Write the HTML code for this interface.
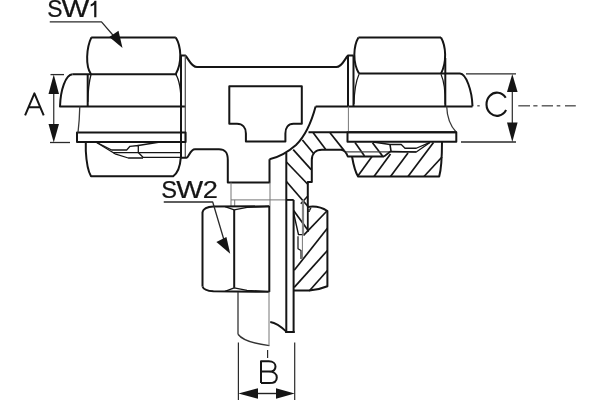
<!DOCTYPE html>
<html><head><meta charset="utf-8"><style>html,body{margin:0;padding:0;background:#fff;}svg{display:block;}</style></head>
<body><svg style="will-change:transform" width="600" height="400" viewBox="0 0 600 400">
<defs></defs>
<rect width="600" height="400" fill="#fff"/>
<path d="M72.5,74.3 C65.5,74.8 60.5,90 60,106.5 L185.6,106.5" stroke="#151515" stroke-width="2.0" fill="none" stroke-linejoin="round" />
<line x1="72.5" y1="74.2" x2="177" y2="74.2" stroke="#151515" stroke-width="2.0"/>
<path d="M91.2,37.4 L175.8,37.4" stroke="#151515" stroke-width="2.0" fill="none" stroke-linejoin="round" />
<path d="M91.4,37.4 C86.3,48 85.3,66 91,74.2" stroke="#151515" stroke-width="2.0" fill="none" stroke-linejoin="round" />
<path d="M175.8,37.4 C181,46 182.5,62 175.8,74" stroke="#151515" stroke-width="2.0" fill="none" stroke-linejoin="round" />
<line x1="87.7" y1="74.2" x2="87.7" y2="106.5" stroke="#151515" stroke-width="2.0"/>
<path d="M91,74.5 C89,82 88,92 87.8,102" stroke="#151515" stroke-width="1.3" fill="none" stroke-linejoin="round" />
<path d="M175.8,74.3 C179.5,80 181,90 181.2,104" stroke="#151515" stroke-width="1.3" fill="none" stroke-linejoin="round" />
<line x1="181" y1="55.5" x2="181" y2="157.6" stroke="#151515" stroke-width="2.0"/>
<path d="M181,55.5 L185.3,55.5 C188.5,58.5 191,67.1 197,67.1 L336.3,67.1 C342.3,67.1 344.8,58.5 348,55.5 L353.6,55.5" stroke="#151515" stroke-width="2.0" fill="none" stroke-linejoin="round" />
<line x1="185.3" y1="55.5" x2="185.3" y2="157.4" stroke="#555" stroke-width="1.3"/>
<path d="M77,132.6 L185.6,132.6 L185.6,142 L77,142 Z" stroke="#151515" stroke-width="2.0" fill="none" stroke-linejoin="round" />
<path d="M79.8,106.5 C79.6,115 79,124 78,132.6" stroke="#3a3a3a" stroke-width="1.3" fill="none" stroke-linejoin="round" />
<path d="M85.8,142 L85.8,151 C86.5,164 88.5,172 91,176.3 L173.2,176.3 C177.5,173 180.2,166 180.8,157.6" stroke="#151515" stroke-width="2.0" fill="none" stroke-linejoin="round" />
<path d="M95.8,142 L111.7,150 L126.7,150 L130,146.3 L138.3,145.5 L138.3,152.5 L143,157.3 L181.5,157.3" stroke="#151515" stroke-width="1.3" fill="none" stroke-linejoin="round" />
<path d="M138.3,145.5 L160,142" stroke="#151515" stroke-width="1.3" fill="none" stroke-linejoin="round" />
<path d="M95.8,142 L115,153.8 L128.3,158 L143,158" stroke="#151515" stroke-width="1.3" fill="none" stroke-linejoin="round" />
<line x1="113" y1="152.7" x2="181.5" y2="152.7" stroke="#151515" stroke-width="1.2"/>
<path d="M181,157.7 L186.5,157.7 C189,157.5 190,149.2 195,149.2 L219,149.2 C225.5,149.2 227.8,152.5 227.8,160 L227.8,182.6 L269.5,182.6 L269.5,159.2" stroke="#151515" stroke-width="2.0" fill="none" stroke-linejoin="round" />
<path d="M229.3,123.8 L229.3,86.3 L301.8,86.3 L301.8,123.8 L293.5,123.8 C288,123.8 285.4,128 285.4,133.5 L285.4,141.4 L245.9,141.4 L245.9,133.5 C245.9,127.5 242.5,123.8 237,123.8 Z" stroke="#151515" stroke-width="2.0" fill="none" stroke-linejoin="round" />
<path d="M315.6,106.4 C312,120 306,135 296,145 C288,152 278,157.5 269.5,159.2" stroke="#151515" stroke-width="2.0" fill="none" stroke-linejoin="round" />
<line x1="315.6" y1="106.4" x2="472.5" y2="106.4" stroke="#151515" stroke-width="2.0"/>
<line x1="330" y1="132.8" x2="344" y2="150.4" stroke="#151515" stroke-width="1.7"/>
<line x1="313.2" y1="132.8" x2="325.6" y2="149.2" stroke="#151515" stroke-width="1.7"/>
<line x1="302.4" y1="140" x2="314" y2="154" stroke="#151515" stroke-width="1.7"/>
<line x1="293.2" y1="149.6" x2="311.2" y2="169.6" stroke="#151515" stroke-width="1.7"/>
<line x1="286.4" y1="162" x2="308" y2="184.5" stroke="#151515" stroke-width="1.7"/>
<line x1="286.4" y1="181.5" x2="308" y2="206.5" stroke="#151515" stroke-width="1.7"/>
<line x1="293.6" y1="210.5" x2="307.8" y2="230" stroke="#151515" stroke-width="1.7"/>
<line x1="355" y1="142.5" x2="364.5" y2="156" stroke="#151515" stroke-width="1.7"/>
<line x1="372.5" y1="142.8" x2="382.5" y2="156" stroke="#151515" stroke-width="1.7"/>
<path d="M307.8,207 L307.8,182 L311.8,182 L311.8,160 C311.8,154 315.5,149.8 322,149.8 L341,149.8 C344.5,150 346.5,153 347.8,156.5 L384,156.5" stroke="#151515" stroke-width="2" fill="none" stroke-linejoin="round" />
<line x1="308.5" y1="132.3" x2="456.3" y2="132.3" stroke="#151515" stroke-width="2.0"/>
<line x1="346" y1="151.8" x2="416" y2="151.8" stroke="#444" stroke-width="1.2"/>
<path d="M460,73.6 C466,74 472,90 472.5,106.4" stroke="#151515" stroke-width="2.0" fill="none" stroke-linejoin="round" />
<line x1="359" y1="73.4" x2="460" y2="73.4" stroke="#151515" stroke-width="2.0"/>
<path d="M358.4,37.4 L441,37.4" stroke="#151515" stroke-width="2.0" fill="none" stroke-linejoin="round" />
<path d="M358.4,37.4 C353.5,46 352.3,62 359,73.6" stroke="#151515" stroke-width="2.0" fill="none" stroke-linejoin="round" />
<path d="M441,37.4 C446,46 447,62 441,73.6" stroke="#151515" stroke-width="2.0" fill="none" stroke-linejoin="round" />
<line x1="353.5" y1="55.5" x2="353.5" y2="106.4" stroke="#151515" stroke-width="2.0"/>
<line x1="445.3" y1="58" x2="445.3" y2="106.4" stroke="#151515" stroke-width="2.0"/>
<path d="M359,74.2 C355.5,82 354.3,92 354,104" stroke="#151515" stroke-width="1.2" fill="none" stroke-linejoin="round" />
<path d="M441,74.2 C444.5,82 445.3,92 445.2,104" stroke="#151515" stroke-width="1.2" fill="none" stroke-linejoin="round" />
<line x1="348" y1="55.5" x2="348" y2="106.4" stroke="#151515" stroke-width="2.0"/>
<line x1="348.4" y1="106.4" x2="348.4" y2="132.3" stroke="#777" stroke-width="1"/>
<path d="M446.7,106.4 C447,116 450.5,126 456.3,132.3" stroke="#3a3a3a" stroke-width="1.3" fill="none" stroke-linejoin="round" />
<path d="M347.5,132.3 L456.3,132.3 L456.3,141.8 L347.5,141.8 Z" stroke="#151515" stroke-width="2.0" fill="none" stroke-linejoin="round" />
<path d="M352,156.5 C353.5,165 355,172 358.2,176.6 L439.2,176.6 C441,170 442,160 442,141.8" stroke="#151515" stroke-width="2.0" fill="none" stroke-linejoin="round" />
<line x1="357.5" y1="176.5" x2="372" y2="156.5" stroke="#151515" stroke-width="1.7"/>
<line x1="374" y1="176.5" x2="390.5" y2="154" stroke="#151515" stroke-width="1.7"/>
<line x1="390.5" y1="176.5" x2="408" y2="153" stroke="#151515" stroke-width="1.7"/>
<line x1="408" y1="176.5" x2="433.5" y2="142.5" stroke="#151515" stroke-width="1.7"/>
<line x1="424" y1="176.5" x2="442" y2="157" stroke="#151515" stroke-width="1.7"/>
<path d="M373,142 L390,144.5 L401.25,144.5 L405,148.25 L416.25,148.25 L430,142.3" stroke="#151515" stroke-width="1.3" fill="none" stroke-linejoin="round" />
<path d="M390,144.5 L391,151 L384,156.5" stroke="#151515" stroke-width="1.6" fill="none" stroke-linejoin="round" />
<path d="M391,151.5 L416.25,152 L430,142.5" stroke="#151515" stroke-width="1.3" fill="none" stroke-linejoin="round" />
<line x1="231" y1="182.5" x2="231" y2="206" stroke="#777" stroke-width="1"/>
<line x1="270" y1="182.5" x2="270" y2="206" stroke="#777" stroke-width="1"/>
<line x1="231" y1="199.9" x2="293.6" y2="199.9" stroke="#777" stroke-width="1"/>
<line x1="286.3" y1="199.9" x2="293.6" y2="199.9" stroke="#151515" stroke-width="1.8"/>
<line x1="300.8" y1="203.8" x2="307.8" y2="196" stroke="#151515" stroke-width="1.5"/>
<line x1="234.7" y1="199.9" x2="234.7" y2="206" stroke="#777" stroke-width="1"/>
<path d="M202.5,212 C203.5,208.5 207.5,206.9 213.4,206.6 L269.3,206.3" stroke="#151515" stroke-width="2.0" fill="none" stroke-linejoin="round" />
<path d="M225,206.6 L234.2,209.8 L247,207.3 L269.3,206.5" stroke="#151515" stroke-width="1.3" fill="none" stroke-linejoin="round" />
<line x1="202.5" y1="212" x2="202.5" y2="286.5" stroke="#151515" stroke-width="2.0"/>
<line x1="234.2" y1="209.8" x2="234.2" y2="287.8" stroke="#151515" stroke-width="2.0"/>
<line x1="269.3" y1="206" x2="269.3" y2="291.9" stroke="#151515" stroke-width="2.0"/>
<path d="M202.5,286.5 C203.5,289.5 207.5,291 213.4,291.3 L269.3,291.8" stroke="#151515" stroke-width="2.0" fill="none" stroke-linejoin="round" />
<path d="M225,291.3 L234.2,287.8 L247,290.3 L269.3,291.6" stroke="#151515" stroke-width="1.3" fill="none" stroke-linejoin="round" />
<line x1="238" y1="291.9" x2="238" y2="334.25" stroke="#333" stroke-width="1.3"/>
<path d="M238,334.25 C243,341 256,344 269.4,345.6" stroke="#333" stroke-width="1.4" fill="none" stroke-linejoin="round" />
<line x1="269" y1="291.9" x2="269" y2="345.6" stroke="#777" stroke-width="1"/>
<path d="M270.25,322 C277,323 282,327.5 286.3,331.6" stroke="#151515" stroke-width="2.0" fill="none" stroke-linejoin="round" />
<line x1="286.3" y1="153" x2="286.3" y2="333" stroke="#151515" stroke-width="2.0"/>
<line x1="293.6" y1="199.9" x2="293.6" y2="333" stroke="#151515" stroke-width="2.0"/>
<line x1="285.3" y1="332" x2="294.6" y2="332" stroke="#151515" stroke-width="2.0"/>
<path d="M307.8,207 C314,206 322,207.5 327.4,211 L327.4,286.25 C322,288.5 316,290 309.25,290.6 L293.6,290.6" stroke="#151515" stroke-width="2.0" fill="none" stroke-linejoin="round" />
<path d="M307.8,210.5 L311,208 L309,212 Z" stroke="#151515" stroke-width="1" fill="none" stroke-linejoin="round" />
<line x1="303.5" y1="235.3" x2="327.4" y2="210.5" stroke="#151515" stroke-width="1.7"/>
<line x1="294.2" y1="270.3" x2="327.4" y2="228.3" stroke="#151515" stroke-width="1.7"/>
<line x1="294.2" y1="287.4" x2="327.4" y2="250.5" stroke="#151515" stroke-width="1.7"/>
<line x1="309.2" y1="291" x2="327.4" y2="270.5" stroke="#151515" stroke-width="1.7"/>
<path d="M293.6,213 L298.5,234.6 L303.5,234.6" stroke="#151515" stroke-width="1.4" fill="none" stroke-linejoin="round" />
<line x1="307.8" y1="207" x2="307.8" y2="232" stroke="#151515" stroke-width="1.8"/>
<path d="M298,236.25 L298,248.75 L301,250.6 L301,259" stroke="#151515" stroke-width="1.2" fill="none" stroke-linejoin="round" />
<line x1="302.4" y1="200" x2="302.4" y2="258" stroke="#777" stroke-width="1"/>
<line x1="303.6" y1="200" x2="303.6" y2="235" stroke="#777" stroke-width="1"/>
<line x1="50.5" y1="74.6" x2="64" y2="74.6" stroke="#2a2a2a" stroke-width="1.3"/>
<line x1="50" y1="142.5" x2="70" y2="142.5" stroke="#2a2a2a" stroke-width="1.3"/>
<line x1="53.75" y1="90" x2="53.75" y2="126" stroke="#2a2a2a" stroke-width="1.2"/>
<path d="M53.75,74.5 L48.5,94 L59,94 Z" fill="#151515" stroke="none"/>
<path d="M53.75,142.5 L48.5,124 L59,124 Z" fill="#151515" stroke="none"/>
<line x1="466" y1="73.9" x2="516" y2="73.9" stroke="#2a2a2a" stroke-width="1.3"/>
<line x1="461" y1="142" x2="516" y2="142" stroke="#2a2a2a" stroke-width="1.3"/>
<line x1="512.3" y1="90" x2="512.3" y2="124" stroke="#2a2a2a" stroke-width="1.2"/>
<path d="M512.3,74 L507,92 L517.6,92 Z" fill="#151515" stroke="none"/>
<path d="M512.3,142 L507,122.5 L517.6,122.5 Z" fill="#151515" stroke="none"/>
<line x1="477.3" y1="105.8" x2="479.7" y2="105.8" stroke="#555" stroke-width="1.4"/>
<line x1="518.3" y1="105.8" x2="530" y2="105.8" stroke="#555" stroke-width="1.4"/>
<line x1="533.3" y1="105.8" x2="537.5" y2="105.8" stroke="#555" stroke-width="1.4"/>
<line x1="541.7" y1="105.8" x2="553" y2="105.8" stroke="#555" stroke-width="1.4"/>
<line x1="556.7" y1="105.8" x2="560.3" y2="105.8" stroke="#555" stroke-width="1.4"/>
<line x1="565" y1="105.8" x2="575.8" y2="105.8" stroke="#555" stroke-width="1.4"/>
<line x1="238.4" y1="342.6" x2="238.4" y2="400" stroke="#2a2a2a" stroke-width="1.2"/>
<line x1="294.7" y1="342.6" x2="294.7" y2="400" stroke="#2a2a2a" stroke-width="1.2"/>
<line x1="255" y1="393.5" x2="278" y2="393.5" stroke="#222" stroke-width="1.4"/>
<path d="M238.4,393.5 L258,388.2 L258,398.8 Z" fill="#151515" stroke="none"/>
<path d="M294.7,393.5 L276,388.2 L276,398.8 Z" fill="#151515" stroke="none"/>
<line x1="267.6" y1="350" x2="267.6" y2="358" stroke="#2a2a2a" stroke-width="1.2"/>
<path d="M49.75,21.9 L101.5,21.9 L115,37.5" stroke="#2a2a2a" stroke-width="1.3" fill="none" stroke-linejoin="round" />
<path d="M122.5,48 L109.3,37 L118.5,30.8 Z" fill="#151515" stroke="none"/>
<path d="M163.75,202 L212.7,202 L224,240" stroke="#2a2a2a" stroke-width="1.3" fill="none" stroke-linejoin="round" />
<path d="M230.2,253.8 L216.4,242.1 L226.4,236.9 Z" fill="#151515" stroke="none"/>
<text transform="translate(47.36,16.76) scale(0.2281,0.2394)" font-family="Liberation Sans" font-size="100" fill="#151515" stroke="#151515" stroke-width="1">S</text>
<text transform="translate(61.71,17.00) scale(0.2903,0.2391)" font-family="Liberation Sans" font-size="100" fill="#151515" stroke="#151515" stroke-width="1">W</text>
<path d="M96.4,0.8 L96.4,17.2 L94.2,17.2 L94.2,4.8 C93.2,5.6 92,6.2 90.7,6.6 L90.7,4.3 C92.6,3.8 93.8,2.6 94.5,0.8 Z" fill="#151515" stroke="none"/>
<text transform="translate(161.32,197.56) scale(0.2368,0.2437)" font-family="Liberation Sans" font-size="100" fill="#151515" stroke="#151515" stroke-width="1">S</text>
<text transform="translate(176.22,197.80) scale(0.2849,0.2464)" font-family="Liberation Sans" font-size="100" fill="#151515" stroke="#151515" stroke-width="1">W</text>
<text transform="translate(202.64,197.80) scale(0.2717,0.2471)" font-family="Liberation Sans" font-size="100" fill="#151515" stroke="#151515" stroke-width="1">2</text>
<path d="M25.1,115.3 L34.4,93.4 L43.7,115.3 M28.6,107.2 L40.2,107.2" stroke="#151515" stroke-width="2" fill="none" stroke-linejoin="round" stroke-linecap="butt"/>
<path d="M261,383.1 L261,361.3 L268.8,361.3 C273.3,361.3 275.5,363.9 275.5,366.4 C275.5,369.2 273.3,371.6 268.8,371.6 L261,371.6 M268.8,371.6 C274,371.6 276.8,374.2 276.8,377.4 C276.8,380.8 274,383.1 269.2,383.1 L261,383.1" stroke="#151515" stroke-width="2" fill="none" stroke-linejoin="round" />
<path d="M505.70,97.71 A10.5,11.6 0 1 0 506.09,110.00" stroke="#151515" stroke-width="2.1" fill="none" stroke-linejoin="round" />
</svg></body></html>
